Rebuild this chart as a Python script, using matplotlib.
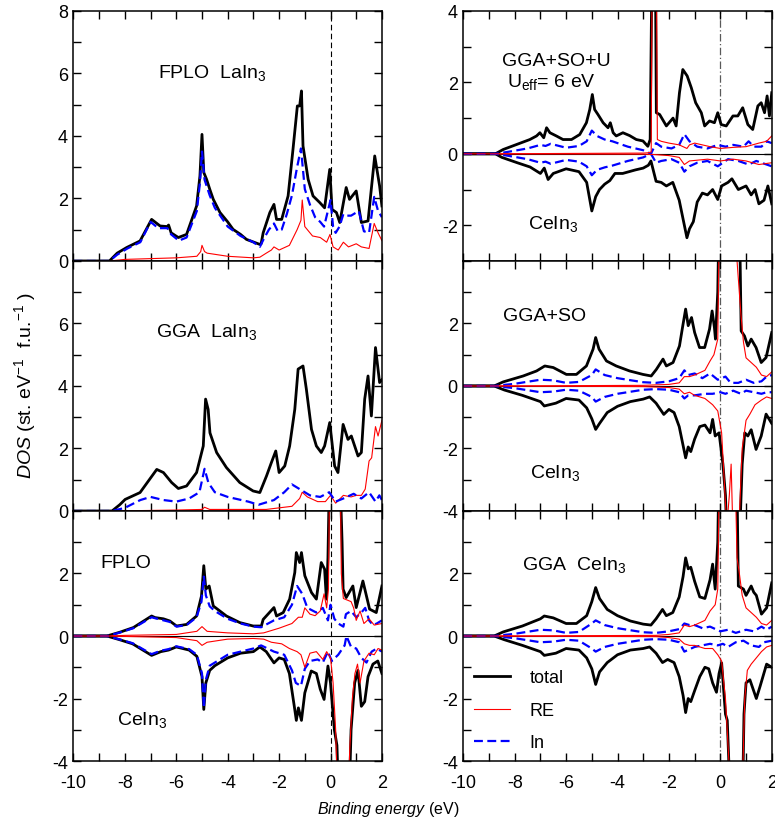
import numpy as np
import matplotlib
matplotlib.use("Agg")
from matplotlib import pyplot as plt
from matplotlib.ticker import MultipleLocator, FuncFormatter

plt.rcParams['font.family'] = ['Liberation Sans', 'DejaVu Sans']
plt.rcParams['mathtext.fontset'] = 'custom'
plt.rcParams['mathtext.rm'] = 'Liberation Sans'
plt.rcParams['mathtext.it'] = 'Liberation Sans:italic'
plt.rcParams['axes.unicode_minus'] = False

# ---- FPLO LaIn3 (left, top) ----
fl_tot_e = [-10, -8.6, -8.3, -7.93, -7.41, -6.96, -6.63, -6.35, -6.3, -6.2, -5.92, -5.6, -5.21, -5.08, -5.0, -4.93, -4.82, -4.7, -4.56, -4.3,
            -4.0, -3.79, -3.5, -3.27, -2.75, -2.7, -2.62, -2.36, -2.2, -2.1, -1.9, -1.65, -1.46, -1.29, -1.2, -1.13, -1.07, -0.87, -0.68, -0.42,
            -0.23, -0.03, 0.06, 0.23, 0.36, 0.61, 0.74, 1.0, 1.2, 1.46, 1.72, 1.91, 2.0]
fl_tot = [0, 0, 0.25, 0.43, 0.64, 1.33, 1.12, 1.1, 1.15, 0.9, 0.75, 0.85, 1.76, 2.72, 4.05, 2.83, 2.61, 2.3, 1.97, 1.55,
          1.25, 1.01, 0.85, 0.69, 0.53, 0.55, 0.9, 1.55, 1.81, 1.33, 1.33, 2.08, 3.57, 4.96, 4.96, 5.44, 3.68, 2.61, 2.08, 1.87,
          1.7, 2.93, 1.65, 1.55, 1.23, 2.35, 1.97, 2.24, 1.23, 1.28, 3.36, 2.4, 1.76]
fl_in_e = [-10, -8.6, -8.3, -7.9, -7.4, -7.0, -6.7, -6.35, -6.2, -5.9, -5.6, -5.2, -5.08, -5.0, -4.9, -4.7, -4.5, -4.0, -3.5, -3.0,
           -2.75, -2.6, -2.4, -2.2, -2.05, -1.9, -1.7, -1.5, -1.3, -1.15, -1.0, -0.8, -0.6, -0.4, -0.25, 0.0, 0.1, 0.2, 0.35, 0.5,
           0.65, 0.8, 1.1, 1.3, 1.5, 1.7, 1.85, 2.0]
fl_in = [0, 0, 0.2, 0.4, 0.6, 1.25, 1.05, 1.05, 0.85, 0.65, 0.75, 1.6, 2.5, 3.5, 2.6, 2.1, 1.7, 1.1, 0.8, 0.6,
         0.45, 0.7, 1.0, 1.2, 0.95, 1.0, 1.5, 2.1, 3.0, 3.6, 2.3, 1.8, 1.4, 1.25, 1.1, 1.95, 1.1, 0.9, 1.1, 1.5,
         1.45, 1.45, 1.6, 0.95, 0.9, 2.05, 1.6, 1.4]
fl_re_e = [-10, -8.6, -8.0, -6.0, -5.2, -5.05, -5.0, -4.9, -4.8, -4.0, -3.0, -2.75, -2.5, -2.3, -2.2, -2.0, -1.6, -1.3, -1.15, -1.1,
           -1.0, -0.7, -0.4, -0.15, -0.02, 0.1, 0.3, 0.5, 0.7, 1.0, 1.2, 1.5, 1.7, 1.85, 2.0]
fl_re = [0, 0, 0.05, 0.1, 0.15, 0.3, 0.5, 0.3, 0.25, 0.15, 0.1, 0.12, 0.25, 0.35, 0.45, 0.35, 0.5, 1.0, 1.3, 1.95,
         1.1, 0.8, 0.75, 0.6, 0.85, 0.45, 0.35, 0.6, 0.45, 0.55, 0.45, 0.4, 1.2, 0.9, 0.65]

# ---- GGA LaIn3 (left, middle) ----
gl_tot_e = [-10, -8.5, -8.2, -7.99, -7.41, -6.76, -6.5, -6.18, -5.92, -5.6, -5.21, -4.95, -4.86, -4.76, -4.69, -4.43, -4.05, -3.53, -3.01, -2.75,
            -2.49, -2.3, -2.13, -2.0, -1.78, -1.59, -1.39, -1.26, -1.07, -0.94, -0.74, -0.55, -0.36, -0.23, -0.03, 0.16, 0.29, 0.49, 0.68, 0.81,
            0.94, 1.07, 1.2, 1.33, 1.46, 1.59, 1.75, 1.91, 2.0]
gl_tot = [0, 0, 0.2, 0.37, 0.59, 1.33, 1.23, 0.91, 0.72, 0.8, 1.23, 2.08, 3.58, 3.25, 2.5, 1.87, 1.39, 0.91, 0.64, 0.59,
          1.12, 1.55, 1.92, 1.23, 1.44, 2.08, 3.25, 4.54, 4.64, 3.9, 2.61, 2.08, 1.87, 2.08, 2.83, 1.44, 1.23, 2.77, 2.29, 2.4,
          2.08, 1.76, 1.87, 3.58, 4.32, 3.04, 5.23, 4.11, 4.2]
gl_in_e = [-10, -8.5, -8.0, -7.4, -7.0, -6.5, -6.0, -5.5, -5.1, -4.9, -4.75, -4.5, -4.0, -3.2, -2.8, -2.2, -1.8, -1.5, -1.2, -0.8,
           -0.4, -0.05, 0.2, 0.5, 0.9, 1.2, 1.5, 1.75, 1.9, 2.0]
gl_in = [0, 0, 0.1, 0.35, 0.45, 0.35, 0.3, 0.4, 0.6, 1.35, 0.9, 0.6, 0.45, 0.3, 0.2, 0.35, 0.6, 0.85, 0.7, 0.5,
         0.45, 0.6, 0.3, 0.4, 0.55, 0.4, 0.6, 0.3, 0.5, 0.35]
gl_re_e = [-10, -8.5, -6.0, -5.0, -4.9, -4.7, -4.0, -2.5, -2.0, -1.5, -1.2, -1.1, -0.9, -0.5, -0.2, 0.0, 0.2, 0.5, 0.8, 1.0,
           1.2, 1.35, 1.5, 1.6, 1.75, 1.85, 2.0]
gl_re = [0, 0, 0.03, 0.05, 0.12, 0.05, 0.05, 0.05, 0.1, 0.15, 0.4, 0.6, 0.45, 0.3, 0.3, 0.5, 0.25, 0.5, 0.45, 0.5,
         0.5, 0.7, 1.6, 1.7, 2.7, 2.4, 2.9]

# ---- FPLO CeIn3 (left, bottom), spin up / spin down ----
fc_tot_up_e = [-10, -8.7, -8.2, -7.67, -6.96, -6.83, -6.5, -6.25, -5.99, -5.6, -5.21, -5.02, -4.93, -4.85, -4.72, -4.56, -4.05, -3.53, -3.01, -2.69,
               -2.62, -2.2, -2.1, -1.84, -1.59, -1.39, -1.33, -1.2, -1.13, -1.0, -0.74, -0.55, -0.36, -0.23, -0.16, -0.1, 0.0, 0.3, 0.45, 0.49,
               0.61, 0.87, 1.0, 1.26, 1.52, 1.78, 2.0]
fc_tot_up = [0, 0, 0.12, 0.27, 0.64, 0.59, 0.55, 0.48, 0.32, 0.37, 0.64, 1.28, 2.25, 1.5, 1.6, 0.96, 0.64, 0.43, 0.32, 0.32,
             0.53, 0.91, 0.64, 0.75, 1.18, 2.03, 2.67, 2.35, 2.67, 1.93, 1.39, 1.18, 2.35, 2.14, 1.18, 2.5, 7.0, 7.0, 3.0, 1.5,
             1.23, 1.6, 0.91, 1.76, 0.86, 0.75, 1.6]
fc_in_up_e = [-10, -8.7, -8.2, -7.67, -6.96, -6.83, -6.25, -5.99, -5.6, -5.21, -5.02, -4.93, -4.85, -4.7, -4.5, -4.0, -3.5, -3.0, -2.7, -2.2,
              -1.8, -1.5, -1.3, -1.1, -0.9, -0.55, -0.3, -0.1, 0.0, 0.15, 0.3, 0.5, 0.6, 0.8, 1.0, 1.2, 1.35, 1.5, 1.65, 1.8,
              2.0]
fc_in_up = [0, 0, 0.11, 0.25, 0.6, 0.57, 0.45, 0.3, 0.35, 0.6, 1.1, 1.9, 1.3, 0.95, 0.8, 0.55, 0.4, 0.3, 0.28, 0.5,
            0.6, 1.0, 1.6, 1.35, 0.9, 0.75, 0.9, 0.5, 1.0, 0.55, 0.4, 0.3, 0.7, 0.8, 0.6, 0.75, 0.9, 0.5, 0.35, 0.4,
            0.5]
fc_re_up_e = [-10, -8.7, -8.0, -6.0, -5.2, -5.0, -4.8, -4.0, -3.0, -2.6, -2.2, -2.0, -1.5, -1.25, -1.1, -1.0, -0.8, -0.6, -0.4, -0.25,
              -0.15, -0.08, 0.0, 0.35, 0.42, 0.5, 0.8, 0.9, 1.0, 1.15, 1.3, 1.5, 1.7, 2.0]
fc_re_up = [0, 0, 0.02, 0.05, 0.15, 0.3, 0.15, 0.1, 0.07, 0.1, 0.2, 0.25, 0.4, 0.6, 0.6, 0.9, 0.7, 0.65, 0.8, 1.35,
            0.9, 1.5, 8.0, 8.0, 2.0, 1.2, 1.1, 0.9, 0.5, 0.8, 0.4, 0.55, 0.35, 0.4]
fc_tot_dn_e = [-10, -8.7, -8.2, -7.7, -6.96, -6.6, -6.3, -6.0, -5.5, -5.2, -5.0, -4.93, -4.85, -4.7, -4.5, -4.0, -3.5, -3.0, -2.75, -2.5,
               -2.2, -2.0, -1.8, -1.6, -1.4, -1.33, -1.25, -1.13, -1.0, -0.75, -0.55, -0.4, -0.25, -0.1, 0.0, 0.15, 0.25, 0.35, 0.7, 0.8,
               0.94, 1.07, 1.2, 1.33, 1.46, 1.65, 1.84, 2.0]
fc_tot_dn = [0, 0, -0.12, -0.25, -0.62, -0.5, -0.45, -0.35, -0.45, -0.65, -1.3, -2.35, -1.5, -1.1, -0.95, -0.7, -0.55, -0.5, -0.35, -0.5,
             -0.86, -0.7, -0.75, -1.2, -2.3, -2.7, -2.3, -2.7, -1.82, -1.12, -1.2, -1.7, -2.03, -0.96, -1.5, -3.0, -3.5, -6.0, -6.0, -3.0,
             -1.5, -1.1, -2.25, -2.1, -1.3, -0.9, -0.8, -1.2]
fc_in_dn_e = [-10, -8.7, -8.2, -7.7, -6.96, -6.6, -6.3, -6.0, -5.5, -5.2, -5.0, -4.93, -4.85, -4.7, -4.4, -4.0, -3.0, -2.7, -2.2, -1.8,
              -1.5, -1.35, -1.15, -1.0, -0.8, -0.5, -0.3, -0.1, 0.05, 0.3, 0.55, 0.62, 0.8, 1.0, 1.2, 1.4, 1.6, 1.8, 2.0]
fc_in_dn = [0, 0, -0.11, -0.23, -0.58, -0.47, -0.42, -0.33, -0.42, -0.6, -1.2, -2.3, -1.4, -0.95, -0.8, -0.6, -0.4, -0.3, -0.5, -0.6,
            -1.1, -1.5, -1.6, -1.05, -0.8, -0.75, -0.85, -0.5, -0.8, -0.6, -0.3, 0.0, -0.35, -0.4, -0.7, -0.85, -0.5, -0.4, -0.5]
fc_re_dn_e = [-10, -8.7, -6.0, -5.2, -5.0, -4.8, -4.0, -3.0, -2.6, -2.3, -1.9, -1.6, -1.3, -1.15, -1.0, -0.8, -0.55, -0.3, -0.15, 0.0,
              0.1, 0.2, 0.3, 0.65, 0.75, 0.85, 0.95, 1.05, 1.15, 1.3, 1.5, 1.7, 1.85, 2.0]
fc_re_dn = [0, 0, -0.05, -0.15, -0.3, -0.2, -0.1, -0.08, -0.1, -0.2, -0.25, -0.4, -0.5, -0.6, -1.0, -0.55, -0.5, -0.75, -0.5, -0.7,
            -1.5, -3.0, -6.0, -6.0, -3.6, -2.0, -1.2, -0.9, -1.5, -0.8, -0.55, -0.6, -0.4, -0.45]

# ---- GGA+SO+U CeIn3 (right, top) ----
su_tot_up_e = [-10, -8.75, -8.45, -7.93, -7.41, -7.15, -7.02, -6.87, -6.76, -6.63, -6.38, -6.12, -5.79, -5.47, -5.21, -5.08, -4.98, -4.89, -4.76, -4.56,
               -4.37, -4.28, -4.17, -4.05, -3.79, -3.53, -3.27, -3.01, -2.82, -2.73, -2.62, -2.55, -2.49, -2.36, -2.1, -1.84, -1.72, -1.59, -1.46, -1.29,
               -1.13, -0.96, -0.74, -0.61, -0.42, -0.23, -0.1, 0.03, 0.23, 0.49, 0.68, 0.87, 1.07, 1.26, 1.46, 1.59, 1.72, 1.82, 1.91, 2.0]
su_tot_up = [0, 0, 0.12, 0.26, 0.4, 0.5, 0.59, 0.45, 0.73, 0.59, 0.5, 0.4, 0.4, 0.54, 0.87, 1.24, 1.66, 1.24, 1.1, 0.87,
             0.73, 0.87, 0.59, 0.5, 0.59, 0.51, 0.4, 0.36, 0.21, 0.4, 8.0, 8.0, 1.15, 1.1, 0.78, 1.0, 0.78, 1.71, 2.36, 2.18,
             1.85, 1.43, 1.15, 0.78, 0.92, 0.87, 1.15, 0.82, 0.78, 1.06, 1.06, 1.29, 0.82, 0.68, 1.34, 1.43, 1.15, 1.62, 1.06, 1.71]
su_in_up_e = [-10, -8.75, -8.3, -7.5, -7.0, -6.8, -6.6, -6.0, -5.5, -5.2, -5.0, -4.8, -4.5, -4.2, -3.6, -3.0, -2.7, -2.5, -2.3, -1.9,
              -1.6, -1.4, -1.2, -0.9, -0.5, -0.1, 0.2, 0.5, 0.9, 1.1, 1.3, 1.6, 1.8, 2.0]
su_in_up = [0, 0, 0.05, 0.15, 0.25, 0.22, 0.28, 0.17, 0.22, 0.35, 0.65, 0.5, 0.4, 0.35, 0.2, 0.1, 0.0, 0.3, 0.2, 0.15,
            0.25, 0.55, 0.35, 0.2, 0.15, 0.25, 0.2, 0.25, 0.2, 0.35, 0.2, 0.2, 0.35, 0.3]
su_re_up_e = [-10, -8.75, -6.0, -3.0, -2.8, -2.69, -2.62, -2.52, -2.45, -2.3, -2.0, -1.6, -1.3, -1.2, -1.0, -0.7, -0.4, 0.0, 0.5, 1.0,
              1.5, 1.8, 2.0]
su_re_up = [0, 0, 0.01, 0.02, 0.03, 0.05, 10.0, 10.0, 0.4, 0.35, 0.3, 0.25, 0.15, 0.25, 0.3, 0.25, 0.2, 0.15, 0.18, 0.2,
            0.3, 0.35, 0.5]
su_tot_dn_e = [-10, -8.75, -8.5, -7.9, -7.4, -7.0, -6.85, -6.7, -6.5, -6.0, -5.5, -5.2, -5.0, -4.85, -4.7, -4.5, -4.3, -4.1, -3.8, -3.3,
               -3.0, -2.8, -2.7, -2.5, -2.3, -2.1, -1.85, -1.6, -1.4, -1.3, -1.2, -1.05, -0.9, -0.7, -0.5, -0.3, -0.1, 0.05, 0.3, 0.45,
               0.7, 1.0, 1.2, 1.35, 1.5, 1.7, 1.85, 2.0]
su_tot_dn = [0, 0, -0.1, -0.25, -0.37, -0.55, -0.4, -0.72, -0.55, -0.42, -0.5, -0.8, -1.6, -1.2, -1.0, -0.85, -0.75, -0.55, -0.55, -0.45,
             -0.4, -0.32, -0.2, -0.77, -0.8, -0.9, -0.8, -1.3, -2.0, -2.35, -2.1, -1.9, -1.35, -1.1, -1.15, -1.0, -1.28, -0.9, -0.8, -0.7,
             -1.0, -0.9, -1.15, -1.0, -1.4, -1.3, -0.9, -1.4]
su_in_dn_e = [-10, -8.75, -8.3, -7.5, -7.0, -6.8, -6.6, -6.0, -5.5, -5.2, -5.0, -4.8, -4.5, -4.2, -3.6, -3.0, -2.7, -2.5, -2.3, -1.9,
              -1.6, -1.4, -1.2, -0.9, -0.5, -0.1, 0.3, 0.7, 1.1, 1.4, 1.8, 2.0]
su_in_dn = [0, 0, -0.05, -0.15, -0.25, -0.22, -0.28, -0.17, -0.22, -0.35, -0.6, -0.45, -0.38, -0.33, -0.2, -0.1, 0.0, -0.25, -0.2, -0.15,
            -0.25, -0.5, -0.35, -0.25, -0.2, -0.35, -0.15, -0.2, -0.3, -0.2, -0.3, -0.35]
su_re_dn_e = [-10, -8.75, -3.0, -2.6, -2.0, -1.6, -1.4, -1.2, -0.5, 0.0, 0.5, 1.0, 1.5, 2.0]
su_re_dn = [0, 0, -0.01, -0.02, -0.05, -0.1, -0.3, -0.2, -0.15, -0.2, -0.15, -0.2, -0.3, -0.25]

# ---- GGA+SO CeIn3 (right, middle) ----
so_tot_up_e = [-10, -8.8, -8.45, -7.67, -7.15, -6.83, -6.5, -5.99, -5.6, -5.21, -4.95, -4.85, -4.72, -4.43, -4.05, -3.53, -3.01, -2.69, -2.49, -2.23,
               -2.1, -1.84, -1.59, -1.46, -1.35, -1.25, -1.12, -1.0, -0.81, -0.61, -0.42, -0.32, -0.23, -0.19, -0.1, 0.0, 0.7, 0.81, 0.94, 1.07,
               1.2, 1.39, 1.59, 1.78, 2.0]
so_tot_up = [0, 0, 0.13, 0.32, 0.48, 0.64, 0.59, 0.37, 0.37, 0.64, 1.18, 1.55, 1.18, 0.8, 0.64, 0.48, 0.37, 0.32, 0.53, 0.86,
             0.64, 0.75, 1.28, 1.93, 2.46, 1.93, 2.19, 1.71, 1.23, 1.23, 1.82, 2.4, 1.87, 1.5, 3.0, 8.0, 8.0, 1.76, 1.6, 1.28,
             1.5, 1.23, 0.75, 0.91, 1.71]
so_in_up_e = [-10, -8.8, -8.0, -7.0, -6.5, -6.0, -5.5, -5.0, -4.85, -4.5, -4.0, -3.0, -2.5, -2.0, -1.6, -1.4, -1.25, -1.0, -0.7, -0.4,
              -0.1, 0.2, 0.4, 0.7, 1.0, 1.3, 1.6, 1.8, 2.0]
so_in_up = [0, 0, 0.07, 0.2, 0.18, 0.1, 0.13, 0.35, 0.53, 0.35, 0.25, 0.12, 0.1, 0.15, 0.25, 0.5, 0.35, 0.4, 0.25, 0.4,
            0.2, 0.3, 0.1, 0.1, 0.2, 0.1, 0.15, 0.3, 0.35]
so_re_up_e = [-10, -8.8, -3.0, -2.0, -1.6, -1.4, -1.2, -1.0, -0.6, -0.4, -0.25, -0.1, 0.0, 0.55, 0.65, 0.8, 0.9, 1.0, 1.2, 1.4,
              1.6, 1.8, 2.0]
so_re_up = [0, 0, 0.02, 0.05, 0.1, 0.3, 0.3, 0.35, 0.5, 0.8, 1.0, 1.5, 8.0, 8.0, 4.0, 2.3, 1.4, 0.9, 0.75, 0.6,
            0.35, 0.3, 0.45]
so_tot_dn_e = [-10, -8.8, -8.4, -7.7, -7.0, -6.85, -6.4, -6.0, -5.5, -5.2, -5.0, -4.85, -4.7, -4.4, -4.0, -3.5, -3.0, -2.75, -2.5, -2.2,
               -2.0, -1.8, -1.6, -1.45, -1.35, -1.25, -1.15, -1.0, -0.8, -0.6, -0.4, -0.3, -0.2, -0.05, 0.1, 0.2, 0.3, 0.7, 0.85, 0.95,
               1.07, 1.2, 1.39, 1.59, 1.78, 2.0]
so_tot_dn = [0, 0, -0.13, -0.3, -0.5, -0.64, -0.55, -0.4, -0.45, -0.7, -1.05, -1.39, -1.2, -0.85, -0.65, -0.5, -0.42, -0.35, -0.55, -0.91,
             -0.75, -0.85, -1.3, -1.9, -2.3, -1.95, -2.1, -1.7, -1.3, -1.25, -1.5, -1.07, -1.6, -1.5, -2.5, -3.5, -6.0, -6.0, -2.5, -1.5,
             -1.6, -1.4, -2.03, -1.6, -0.9, -1.2]
so_in_dn_e = [-10, -8.8, -8.0, -7.0, -6.5, -6.0, -5.5, -5.0, -4.85, -4.5, -4.0, -3.0, -2.5, -2.0, -1.6, -1.4, -1.25, -1.0, -0.6, -0.3,
              0.0, 0.2, 0.5, 0.8, 1.0, 1.3, 1.6, 1.8, 2.0]
so_in_dn = [0, 0, -0.07, -0.2, -0.18, -0.12, -0.15, -0.35, -0.5, -0.35, -0.25, -0.12, -0.1, -0.12, -0.2, -0.4, -0.3, -0.3, -0.25, -0.25,
            -0.2, -0.25, -0.15, -0.25, -0.15, -0.2, -0.25, -0.2, -0.2]
so_re_dn_e = [-10, -8.8, -3.0, -2.0, -1.6, -1.4, -1.2, -1.0, -0.6, -0.3, -0.1, 0.05, 0.15, 0.25, 0.35, 0.42, 0.5, 0.7, 0.85, 1.0,
              1.15, 1.35, 1.6, 1.8, 2.0]
so_re_dn = [0, 0, -0.02, -0.05, -0.1, -0.25, -0.2, -0.3, -0.4, -0.6, -0.8, -1.5, -3.0, -4.5, -3.5, -2.5, -5.0, -5.0, -2.0, -1.1,
            -0.9, -0.6, -0.45, -0.35, -0.4]

# ---- GGA CeIn3 (right, bottom) ----
gc_tot_up_e = [-10, -8.8, -8.45, -7.7, -7.0, -6.85, -6.5, -6.0, -5.6, -5.2, -5.0, -4.85, -4.7, -4.4, -4.0, -3.5, -3.0, -2.7, -2.5, -2.25,
               -2.1, -1.85, -1.6, -1.45, -1.35, -1.25, -1.15, -1.0, -0.8, -0.6, -0.4, -0.3, -0.2, -0.1, 0.0, 0.6, 0.7, 0.9, 1.0, 1.2,
               1.3, 1.4, 1.6, 1.8, 2.0]
gc_tot_up = [0, 0, 0.13, 0.32, 0.55, 0.64, 0.58, 0.4, 0.4, 0.65, 1.1, 1.55, 1.2, 0.85, 0.65, 0.48, 0.38, 0.35, 0.55, 0.85,
             0.65, 0.75, 1.25, 1.9, 2.5, 2.15, 2.2, 1.75, 1.25, 1.2, 1.8, 2.3, 1.5, 3.0, 8.0, 8.0, 1.6, 1.5, 1.3, 1.6,
             1.4, 1.3, 0.7, 0.9, 1.7]
gc_in_up_e = [-10, -8.8, -8.0, -7.0, -6.5, -6.0, -5.5, -5.0, -4.85, -4.5, -4.0, -3.0, -2.5, -2.0, -1.6, -1.4, -1.2, -1.0, -0.7, -0.4,
              0.0, 0.3, 0.6, 1.0, 1.3, 1.6, 1.8, 2.0]
gc_in_up = [0, 0, 0.07, 0.2, 0.18, 0.1, 0.13, 0.4, 0.5, 0.35, 0.25, 0.12, 0.1, 0.15, 0.22, 0.4, 0.35, 0.35, 0.25, 0.3,
            0.15, 0.2, 0.1, 0.2, 0.15, 0.3, 0.2, 0.3]
gc_re_up_e = [-10, -8.8, -2.5, -2.0, -1.6, -1.4, -1.2, -1.0, -0.6, -0.4, -0.2, -0.1, 0.0, 0.5, 0.65, 0.74, 0.85, 1.0, 1.2, 1.4,
              1.6, 1.8, 2.0]
gc_re_up = [0, 0, 0.02, 0.05, 0.1, 0.35, 0.3, 0.35, 0.5, 0.8, 1.0, 1.5, 8.0, 8.0, 2.5, 2.0, 1.3, 0.9, 0.75, 0.6,
            0.4, 0.35, 0.5]
gc_tot_dn_e = [-10, -8.8, -8.4, -7.7, -7.0, -6.85, -6.4, -6.0, -5.5, -5.2, -5.0, -4.85, -4.7, -4.4, -4.0, -3.5, -3.0, -2.75, -2.5, -2.25,
               -2.05, -1.8, -1.6, -1.45, -1.35, -1.25, -1.15, -1.0, -0.8, -0.6, -0.45, -0.3, -0.15, -0.05, 0.05, 0.2, 0.27, 0.42, 0.85, 0.92,
               1.0, 1.15, 1.4, 1.55, 1.8, 2.0]
gc_tot_dn = [0, 0, -0.12, -0.3, -0.5, -0.62, -0.55, -0.4, -0.45, -0.7, -1.05, -1.55, -1.15, -0.85, -0.6, -0.45, -0.4, -0.35, -0.55, -0.85,
             -0.75, -0.85, -1.3, -1.9, -2.45, -2.0, -2.1, -1.75, -1.3, -1.0, -1.05, -1.5, -1.8, -1.2, -0.86, -2.5, -2.7, -6.0, -6.0, -2.5,
             -1.5, -1.4, -2.0, -1.6, -0.9, -1.0]
gc_in_dn_e = [-10, -8.8, -8.0, -7.0, -6.5, -6.0, -5.5, -5.0, -4.85, -4.5, -4.0, -3.0, -2.5, -2.0, -1.6, -1.4, -1.0, -0.4, -0.1, 0.1,
              0.3, 0.6, 0.9, 1.2, 1.5, 1.7, 2.0]
gc_in_dn = [0, 0, -0.07, -0.2, -0.18, -0.12, -0.15, -0.4, -0.5, -0.35, -0.25, -0.12, -0.1, -0.12, -0.2, -0.5, -0.35, -0.25, -0.3, -0.25,
            -0.35, -0.2, -0.15, -0.3, -0.35, -0.2, -0.15]
gc_re_dn_e = [-10, -8.8, -2.5, -2.0, -1.6, -1.4, -1.2, -1.0, -0.6, -0.3, -0.1, 0.05, 0.2, 0.3, 0.4, 0.85, 0.95, 1.05, 1.2, 1.4,
              1.6, 1.8, 2.0]
gc_re_dn = [0, 0, -0.02, -0.05, -0.1, -0.25, -0.3, -0.3, -0.4, -0.4, -0.6, -0.8, -2.0, -3.5, -5.0, -5.0, -2.0, -1.1, -0.9, -0.7,
            -0.5, -0.35, -0.3]

# y ranges and which major ticks get a label
ylims = {"fl": (0, 8), "gl": (0, 8), "fc": (-4, 4), "su": (-3, 4), "so": (-4, 4), "gc": (-4, 4)}
ylabels_shown = {"fl": [0, 2, 4, 6, 8], "gl": [0, 2, 4, 6], "fc": [-4, -2, 0, 2],
                 "su": [-2, 0, 2, 4], "so": [-4, -2, 0, 2], "gc": [-4, -2, 0, 2]}

FS = 13
TOT = dict(color='k', lw=2.0)
RE = dict(color='#ff0000', lw=0.8)
IN = dict(color='#0000ff', lw=1.6, ls=(0, (4, 2)))


def style_axis(ax, key, bottom_row):
    ax.set_xlim(-10, 2)
    ax.set_ylim(*ylims[key])
    ax.xaxis.set_major_locator(MultipleLocator(2))
    ax.xaxis.set_minor_locator(MultipleLocator(1))
    ax.yaxis.set_major_locator(MultipleLocator(2))
    ax.yaxis.set_minor_locator(MultipleLocator(1))
    shown = ylabels_shown[key]
    ax.yaxis.set_major_formatter(FuncFormatter(lambda v, p: ('%d' % round(v)) if round(v) in shown else ''))
    ax.xaxis.set_major_formatter(FuncFormatter(lambda v, p: '%d' % round(v)))
    ax.tick_params(which='both', direction='in', top=True, right=True, length=6, width=1.0,
                   labelsize=FS, labelbottom=bottom_row, pad=4)
    ax.tick_params(axis='x', pad=9.5)
    for s in ax.spines.values():
        s.set_linewidth(1.1)


def fermi_line(ax, right):
    if right:
        ax.axvline(0, color='0.35', lw=0.9, ls=(0, (6, 2, 1, 2)), zorder=1)
    else:
        ax.axvline(0, color='k', lw=0.8, ls=(0, (5, 3)), zorder=1)


def plot_la(ax, te, t, ie, i, re_e, r):
    ax.plot(te, t, **TOT)
    ax.plot(re_e, r, **RE)
    ax.plot(ie, i, **IN)


def plot_ce(ax, curves):
    ax.axhline(0, color='k', lw=0.8, zorder=1)
    handles = []
    for te, t, ie, i, re_e, r in curves:
        h1, = ax.plot(te, t, **TOT)
        h3, = ax.plot(ie, i, **IN)
        h2, = ax.plot(re_e, r, **RE)
        handles = [h1, h2, h3]
    return handles


fig = plt.figure(figsize=(7.75, 8.29), dpi=100)
W = 0.398
H = 0.3016
lefts = [0.0948, 0.5978]
bottoms = [0.684, 0.3824, 0.0808]

ax_fl = fig.add_axes([lefts[0], bottoms[0], W, H])
ax_gl = fig.add_axes([lefts[0], bottoms[1], W, H])
ax_fc = fig.add_axes([lefts[0], bottoms[2], W, H])
ax_su = fig.add_axes([lefts[1], bottoms[0], W, H])
ax_so = fig.add_axes([lefts[1], bottoms[1], W, H])
ax_gc = fig.add_axes([lefts[1], bottoms[2], W, H])

plot_la(ax_fl, fl_tot_e, fl_tot, fl_in_e, fl_in, fl_re_e, fl_re)
plot_la(ax_gl, gl_tot_e, gl_tot, gl_in_e, gl_in, gl_re_e, gl_re)
plot_ce(ax_fc, [(fc_tot_up_e, fc_tot_up, fc_in_up_e, fc_in_up, fc_re_up_e, fc_re_up),
                (fc_tot_dn_e, fc_tot_dn, fc_in_dn_e, fc_in_dn, fc_re_dn_e, fc_re_dn)])
plot_ce(ax_su, [(su_tot_up_e, su_tot_up, su_in_up_e, su_in_up, su_re_up_e, su_re_up),
                (su_tot_dn_e, su_tot_dn, su_in_dn_e, su_in_dn, su_re_dn_e, su_re_dn)])
plot_ce(ax_so, [(so_tot_up_e, so_tot_up, so_in_up_e, so_in_up, so_re_up_e, so_re_up),
                (so_tot_dn_e, so_tot_dn, so_in_dn_e, so_in_dn, so_re_dn_e, so_re_dn)])
hs = plot_ce(ax_gc, [(gc_tot_up_e, gc_tot_up, gc_in_up_e, gc_in_up, gc_re_up_e, gc_re_up),
                     (gc_tot_dn_e, gc_tot_dn, gc_in_dn_e, gc_in_dn, gc_re_dn_e, gc_re_dn)])

for ax, key, bot, right in [(ax_fl, "fl", False, False), (ax_gl, "gl", False, False), (ax_fc, "fc", True, False),
                            (ax_su, "su", False, True), (ax_so, "so", False, True), (ax_gc, "gc", True, True)]:
    style_axis(ax, key, bot)
    fermi_line(ax, right)

# panel labels
TFS = 14
ax_fl.text(-6.7, 6.05, r"FPLO  LaIn$_3$", fontsize=TFS, va='center')
ax_gl.text(-6.8, 5.75, r"GGA  LaIn$_3$", fontsize=TFS, va='center')
ax_fc.text(-8.95, 2.35, "FPLO", fontsize=TFS, va='center')
ax_fc.text(-8.3, -2.65, r"CeIn$_3$", fontsize=TFS, va='center')
ax_su.text(-8.5, 2.62, "GGA+SO+U", fontsize=TFS, va='center')
ax_su.text(-8.3, 2.05, r"U$_{\rm eff}$= 6 eV", fontsize=TFS, va='center')
ax_su.text(-7.5, -1.95, r"CeIn$_3$", fontsize=TFS, va='center')
ax_so.text(-8.45, 2.24, "GGA+SO", fontsize=TFS, va='center')
ax_so.text(-7.4, -2.75, r"CeIn$_3$", fontsize=TFS, va='center')
ax_gc.text(-7.7, 2.3, r"GGA  CeIn$_3$", fontsize=TFS, va='center')

ax_gc.legend(hs, ["total", "RE", "In"], loc='upper left', bbox_to_anchor=(0.01, 0.395),
             borderaxespad=0, frameon=False, fontsize=FS, handlelength=2.0,
             handletextpad=1.1, labelspacing=0.85)

fig.text(25 / 775, 1 - 385 / 829, r"$\it{DOS}$ (st. eV$^{-1}$  f.u.$^{-1}$ )", rotation=90,
         ha='center', va='center', fontsize=14)
fig.text(388 / 775, 1 - 810 / 829, r"$\it{Binding\ energy}$ (eV)", ha='center', va='center', fontsize=11.5)

fig.savefig("out.png", dpi=100)
